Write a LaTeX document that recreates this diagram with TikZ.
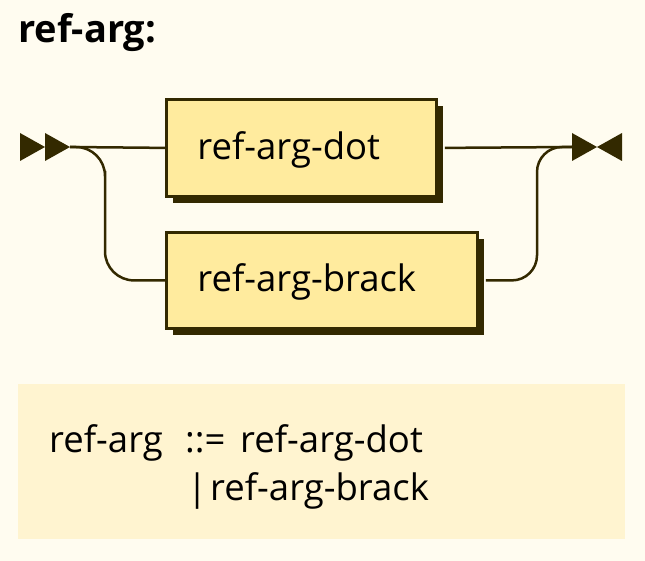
\documentclass[tikz,border=0pt]{standalone}
\usepackage{fontspec}
\setmainfont{Open Sans}
\usetikzlibrary{shadows}
\definecolor{rrbg}{HTML}{FFFCF0}
\definecolor{rrfill}{HTML}{FFEB9E}
\definecolor{rrline}{HTML}{332900}
\definecolor{rrgram}{HTML}{FFF4D0}
\tikzset{
  ntbox/.style={draw=rrline, line width=2.8pt, fill=rrfill, rectangle,
    minimum height=97pt, inner xsep=31pt, inner ysep=0pt, align=left,
    text height=23pt, text depth=0pt, font=\fontsize{36.5}{44}\selectfont,
    text=black,
    drop shadow={shadow xshift=7pt, shadow yshift=-7pt, fill=rrline, opacity=1}},
  conn/.style={draw=rrline, line width=2.5pt},
  tri/.style={fill=rrline, draw=none},
  gtext/.style={font=\fontsize{36.5}{44}\selectfont, anchor=base west, inner sep=0pt, text=black}
}
\begin{document}
\begin{tikzpicture}[x=1pt,y=-1pt]
  \fill[rrbg] (0,0) rectangle (645,561);
  \useasboundingbox (0,0) rectangle (645,561);
  % title
  \node[anchor=base west, inner sep=0pt, font=\bfseries\fontsize{38}{46}\selectfont, text=black] (title) at (18,43) {ref-arg:};
  % start / end markers
  \coordinate (start) at (70,147);
  \coordinate (end) at (572,147);
  \fill[tri] (20,133) -- (45,147) -- (20,161) -- cycle;
  \fill[tri] (45,133) -- (70,147) -- (45,161) -- cycle;
  \fill[tri] (572,133) -- (597,147) -- (572,161) -- cycle;
  \fill[tri] (622,133) -- (597,147) -- (622,161) -- cycle;
  % boxes
  \node[ntbox, text width=208pt, anchor=north west] (dot) at (165,98) {ref-arg-dot};
  \node[ntbox, text width=249pt, anchor=north west, minimum height=96pt] (brack) at (165,231) {ref-arg-brack};
  % connectors
  \draw[conn] (start) -- (dot.west);
  \draw[conn] ([xshift=7pt]dot.east) -- (end);
  \draw[conn, rounded corners=29pt] (start) -| (105,200) |- (brack.west);
  \draw[conn, rounded corners=25pt] ([xshift=7pt]brack.east) -| (537,200) |- (end);
  % grammar box
  \fill[rrgram] (18,384) rectangle (625,539);
  \node[gtext] (g1) at (49,452) {ref-arg};
  \node[gtext] (g2) at (185,452) {::=};
  \node[gtext] (g3) at (240,452) {ref-arg-dot};
  \node[gtext] (g4) at (187,500) {|};
  \node[gtext] (g5) at (210,500) {ref-arg-brack};
\end{tikzpicture}
\end{document}
